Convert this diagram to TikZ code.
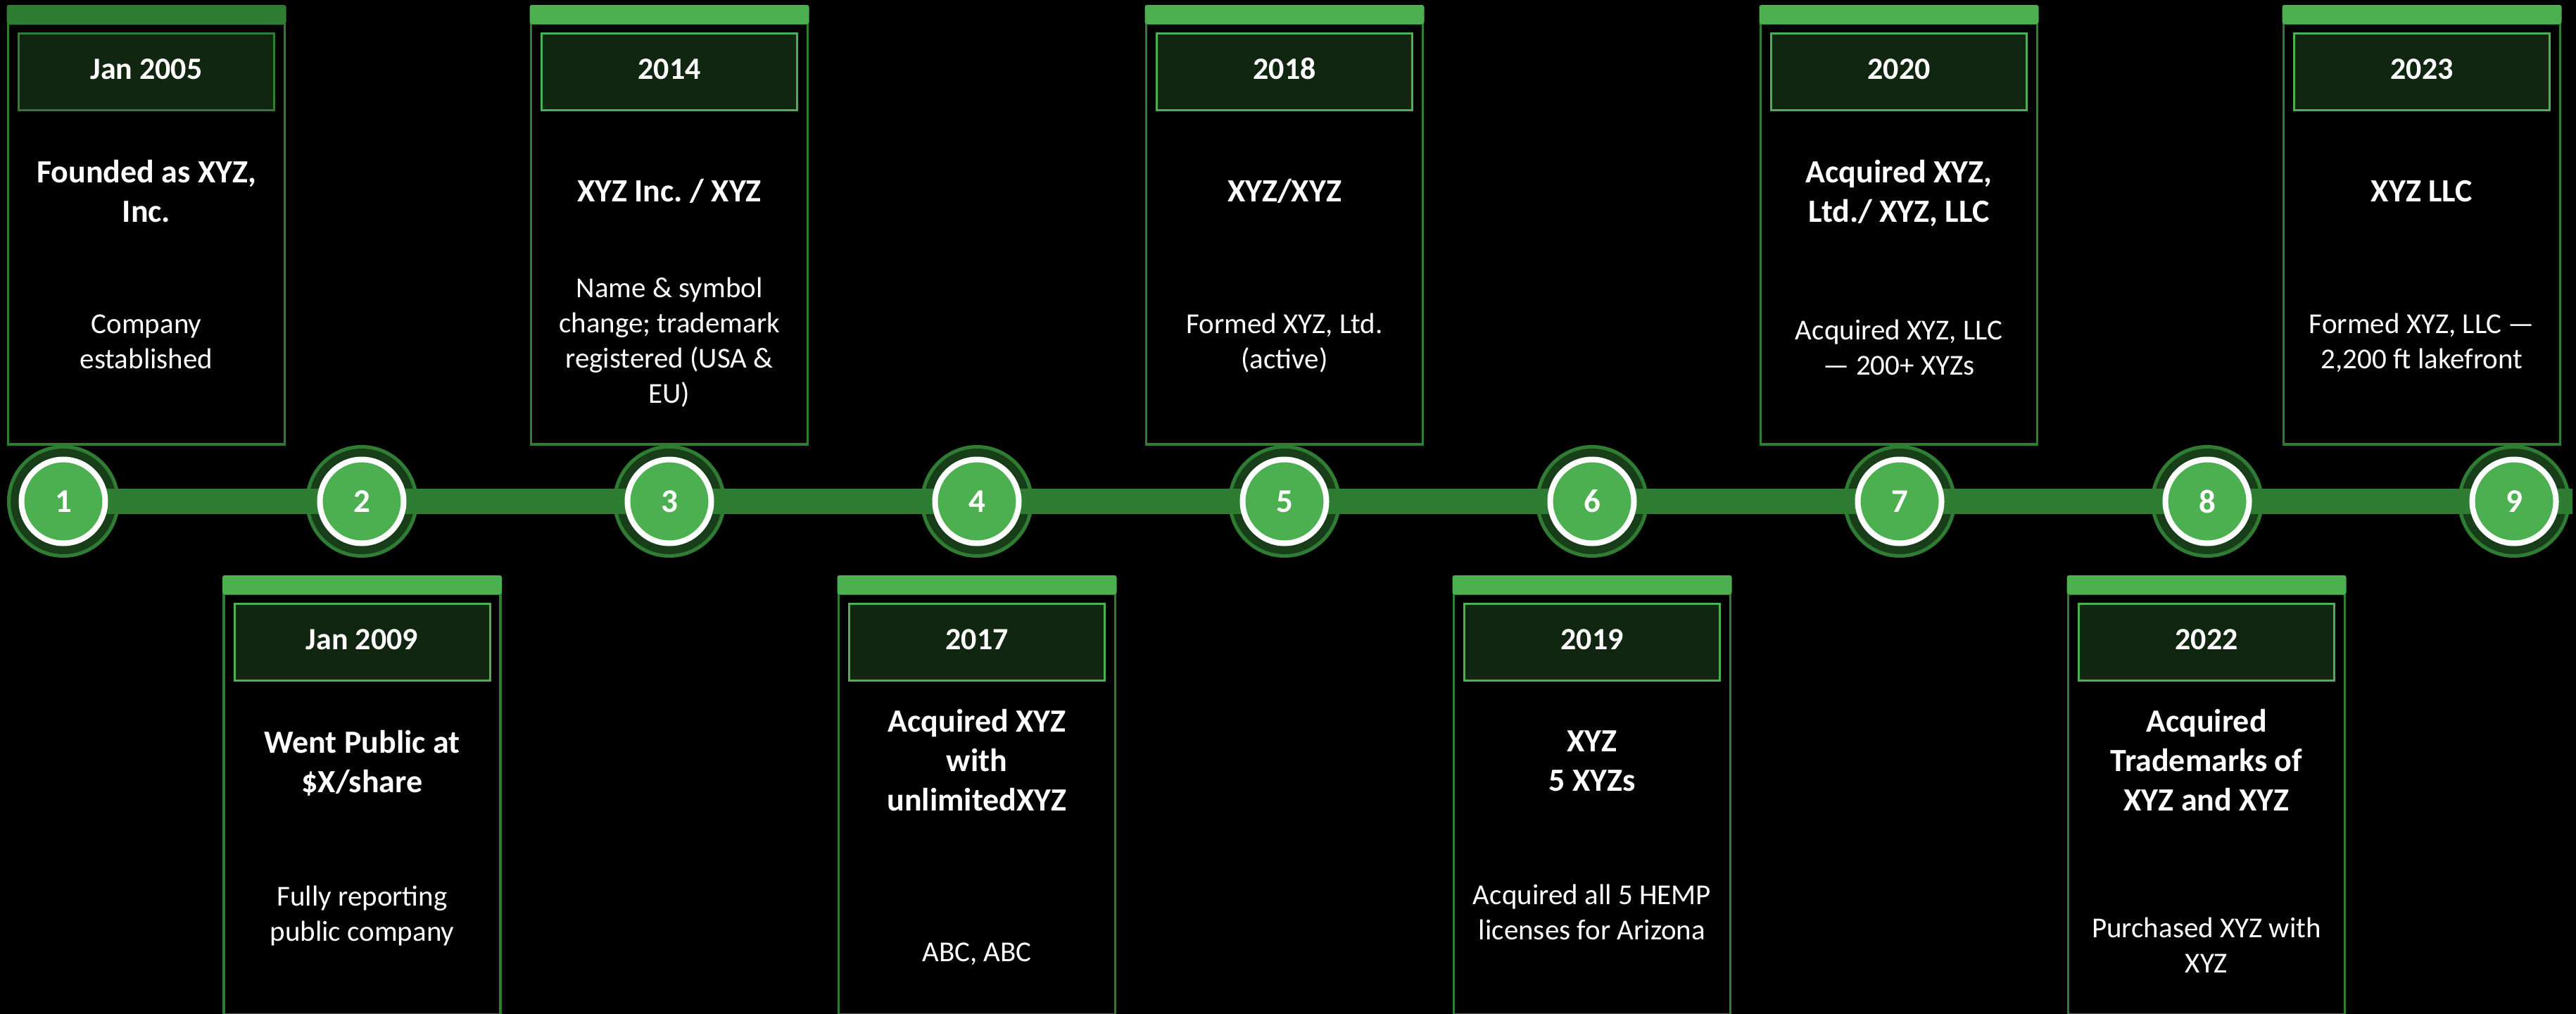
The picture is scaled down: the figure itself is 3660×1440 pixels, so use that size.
\documentclass[tikz,border=0pt]{standalone}
\usepackage{fontspec}
\setmainfont{Carlito}
\frenchspacing
\definecolor{gDark}{RGB}{46,125,50}
\definecolor{gLight}{RGB}{76,175,80}
\definecolor{ringDark}{RGB}{24,62,25}
\definecolor{headFill}{RGB}{16,38,17}
\newcommand\mylines[1]{\begin{tabular}[t]{@{}c@{}}#1\end{tabular}}
\tikzset{
  cardbar/.style={rounded corners=3pt},
  cardline/.style={draw=gDark, line width=3.5pt},
  headbox/.style={rectangle, fill=headFill, line width=3pt, minimum width=363pt, minimum height=109pt, inner sep=0pt},
  datetxt/.style={anchor=base, inner sep=0pt, text=white, font=\bfseries\fontsize{44}{53}\selectfont},
  titletxt/.style={anchor=base, inner sep=0pt, text=white, font=\bfseries\fontsize{46}{56}\selectfont},
  bodytxt/.style={anchor=base, inner sep=0pt, text=white, font=\fontsize{41}{50}\selectfont},
  outerring/.style={circle, minimum size=155pt, inner sep=0pt, fill=ringDark, draw=gDark, line width=5pt},
  innerdot/.style={circle, minimum size=119pt, inner sep=0pt, fill=gLight, draw=white, line width=8pt, text=white, font=\bfseries\fontsize{47}{56}\selectfont},
  timebar/.style={draw=gDark, line width=36pt},
}
% #1 id, #2 centre x, #3 top y, #4 bar colour, #5 header border colour, #6 date
\newcommand\cardframe[6]{%
  \draw[cardline] (#2-196.5,#3+26) rectangle (#2+196.5,#3+624);
  \fill[cardbar, fill=#4] (#2-198.5,#3) rectangle (#2+198.5,#3+27);
  \node[headbox, draw=#5] (h#1) at (#2,#3+94.5) {};
  \node[datetxt] (d#1) at (#2,#3+105) {#6};
}
\begin{document}
\begin{tikzpicture}[x=1pt,y=-1pt]
\useasboundingbox (0,0) rectangle (3660,1440);
\fill[black] (0,0) rectangle (3660,1440);

% ---- cards above the line
\cardframe{1}{208}{7}{gDark}{gDark}{Jan 2005}
\node[titletxt] (t1) at (208,259) {\mylines{Founded as XYZ,\\Inc.}};
\node[bodytxt] (b1) at (208,473) {\mylines{Company\\established}};

\cardframe{3}{951}{7}{gLight}{gLight}{2014}
\node[titletxt] (t3) at (951,286) {\mylines{XYZ Inc. / XYZ}};
\node[bodytxt] (b3) at (951,422) {\mylines{Name \& symbol\\change; trademark\\registered (USA \&\\EU)}};

\cardframe{5}{1825}{7}{gLight}{gLight}{2018}
\node[titletxt] (t5) at (1825,286) {\mylines{XYZ/XYZ}};
\node[bodytxt] (b5) at (1825,473) {\mylines{Formed XYZ, Ltd.\\(active)}};

\cardframe{7}{2698}{7}{gLight}{gLight}{2020}
\node[titletxt] (t7) at (2698,259) {\mylines{Acquired XYZ,\\Ltd./ XYZ, LLC}};
\node[bodytxt] (b7) at (2698,482) {\mylines{Acquired XYZ, LLC\\— 200+ XYZs}};

\cardframe{9}{3441}{7}{gLight}{gLight}{2023}
\node[titletxt] (t9) at (3441,286) {\mylines{XYZ LLC}};
\node[bodytxt] (b9) at (3441,473) {\mylines{Formed XYZ, LLC —\\2,200 ft lakefront}};

% ---- cards below the line
\cardframe{2}{514.5}{817}{gLight}{gLight}{Jan 2009}
\node[titletxt] (t2) at (514.5,1069) {\mylines{Went Public at\\\$X/share}};
\node[bodytxt] (b2) at (514.5,1286) {\mylines{Fully reporting\\public company}};

\cardframe{4}{1388}{817}{gLight}{gLight}{2017}
\node[titletxt] (t4) at (1388,1039) {\mylines{Acquired XYZ\\with\\unlimitedXYZ}};
\node[bodytxt] (b4) at (1388,1365) {\mylines{ABC, ABC}};

\cardframe{6}{2262}{817}{gLight}{gLight}{2019}
\node[titletxt] (t6) at (2262,1067) {\mylines{XYZ\\5 XYZs}};
\node[bodytxt] (b6) at (2262,1284) {\mylines{Acquired all 5 HEMP\\licenses for Arizona}};

\cardframe{8}{3135}{817}{gLight}{gLight}{2022}
\node[titletxt] (t8) at (3135,1039) {\mylines{Acquired\\Trademarks of\\XYZ and XYZ}};
\node[bodytxt] (b8) at (3135,1331) {\mylines{Purchased XYZ with\\XYZ}};

% ---- timeline
\node[outerring] (o1) at (90,712) {};
\node[outerring] (o2) at (514,712) {};
\node[outerring] (o3) at (951,712) {};
\node[outerring] (o4) at (1388,712) {};
\node[outerring] (o5) at (1825,712) {};
\node[outerring] (o6) at (2262,712) {};
\node[outerring] (o7) at (2699,712) {};
\node[outerring] (o8) at (3136,712) {};
\node[outerring] (o9) at (3572,712) {};
\coordinate (barend) at (3655,712);
\draw[timebar] (o1.center) -- (barend);
\node[innerdot] (c1) at (o1) {1};
\node[innerdot] (c2) at (o2) {2};
\node[innerdot] (c3) at (o3) {3};
\node[innerdot] (c4) at (o4) {4};
\node[innerdot] (c5) at (o5) {5};
\node[innerdot] (c6) at (o6) {6};
\node[innerdot] (c7) at (o7) {7};
\node[innerdot] (c8) at (o8) {8};
\node[innerdot] (c9) at (o9) {9};
\end{tikzpicture}
\end{document}
